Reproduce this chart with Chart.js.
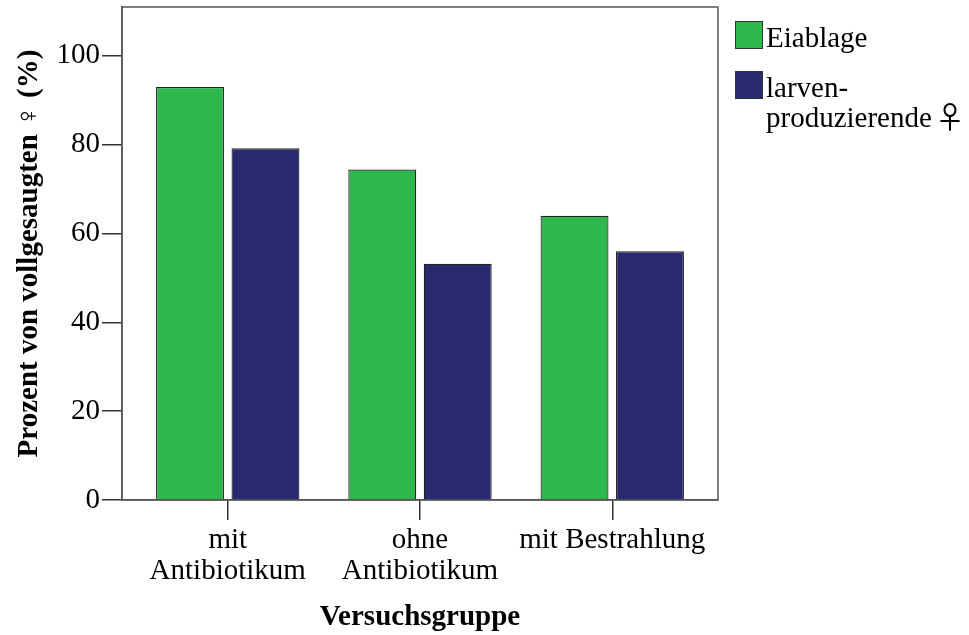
<!DOCTYPE html>
<html>
<head>
<meta charset="utf-8">
<script src="https://cdn.jsdelivr.net/npm/chart.js@4.4.1/dist/chart.umd.min.js"></script>
<style>
    html, body { margin: 0; padding: 0; background: #fff; }
    #wrap { width: 969px; height: 635px; position: relative; }
</style>
</head>
<body>
<div id="wrap"><canvas id="chart"></canvas></div>
<script>
// Data
const groups = [['mit', 'Antibiotikum'], ['ohne', 'Antibiotikum'], 'mit Bestrahlung'];
const seriesNames = ['Eiablage', ['larven-', 'produzierende \u2640']];
const eiablage = [93.0, 74.4, 64.0];
const larvenProduzierende = [79.2, 53.2, 56.0];
const yTicks = [0, 20, 40, 60, 80, 100];

const FONT = '"Liberation Serif", "Times New Roman", serif';
const SYMBOL_FONT = '"Noto Sans CJK JP", "DejaVu Sans", sans-serif';
const colors = ['#2eb84b', '#29296f'];

const toPoints = vals => vals.map((v, i) => ({ x: i, y: v }));

// draws a legend line, the female sign a bit larger like in the original
function drawLegendLine(ctx, text, x, y) {
    const parts = text.split('\u2640');
    ctx.font = '29px ' + FONT;
    ctx.fillText(parts[0], x, y);
    if (parts.length > 1) {
        const w = ctx.measureText(parts[0]).width;
        ctx.font = '30px ' + SYMBOL_FONT;
        ctx.fillText('\u2640', x + w - 4, y + 1);
    }
}

// box round the plot area plus the legend on the right
const boxAndLegend = {
    id: 'boxAndLegend',
    afterDraw(chart) {
        const ctx = chart.ctx;
        const area = chart.chartArea;
        ctx.save();
        ctx.strokeStyle = '#555';
        ctx.lineWidth = 1.5;
        ctx.strokeRect(area.left, area.top, area.right - area.left, area.bottom - area.top);

        ctx.textBaseline = 'alphabetic';
        let y = 21;
        chart.data.datasets.forEach((ds, i) => {
            ctx.fillStyle = ds.backgroundColor;
            ctx.fillRect(735, y, 28, 28);
            ctx.strokeStyle = '#333';
            ctx.lineWidth = 1;
            ctx.strokeRect(735.5, y + 0.5, 27, 27);
            ctx.fillStyle = '#000';
            const lines = Array.isArray(seriesNames[i]) ? seriesNames[i] : [seriesNames[i]];
            lines.forEach((t, j) => {
                drawLegendLine(ctx, t, 766, y + 26 + j * 30);
            });
            y += 50;
        });
        ctx.restore();
    }
};

new Chart(document.getElementById('chart'), {
    type: 'bar',
    data: {
        datasets: [{
            label: 'Eiablage',
            data: toPoints(eiablage),
            backgroundColor: colors[0],
            borderColor: '#222',
            borderWidth: 1.2,
            categoryPercentage: 0.785,
            barPercentage: 0.9
        }, {
            label: 'larven-produzierende \u2640',
            data: toPoints(larvenProduzierende),
            backgroundColor: colors[1],
            borderColor: '#222',
            borderWidth: 1.2,
            categoryPercentage: 0.785,
            barPercentage: 0.9
        }]
    },
    options: {
        responsive: true,
        maintainAspectRatio: false,
        animation: false,
        layout: { padding: { top: 7, right: 251, left: 0, bottom: 0 } },
        plugins: {
            legend: { display: false },
            tooltip: { enabled: false }
        },
        scales: {
            x: {
                type: 'linear',
                offset: false,
                min: -0.55,
                max: 2.55,
                grid: { display: true, offset: false, drawOnChartArea: false, drawTicks: true, tickLength: 20, color: '#333', lineWidth: 1.5 },
                border: { display: true, color: '#555', width: 1.5 },
                afterBuildTicks: scale => { scale.ticks = groups.map((_, i) => ({ value: i })); },
                ticks: {
                    autoSkip: false,
                    maxRotation: 0,
                    padding: 4,
                    color: '#000',
                    font: { family: FONT, size: 29, lineHeight: 1.1 },
                    callback: v => groups[v]
                },
                title: {
                    display: true,
                    text: 'Versuchsgruppe',
                    color: '#000',
                    font: { family: FONT, size: 29, weight: 'bold' },
                    padding: { top: 6, bottom: 0 }
                },
                afterFit: scale => {
                    scale.height = 135;
                    scale.paddingLeft = 0;
                    scale.paddingRight = 0;
                }
            },
            y: {
                min: 0,
                max: 111,
                grid: { display: true, drawOnChartArea: false, drawTicks: true, tickLength: 20, color: '#333', lineWidth: 1.5 },
                border: { display: true, color: '#555', width: 1.5 },
                afterBuildTicks: scale => { scale.ticks = yTicks.map(v => ({ value: v })); },
                ticks: {
                    padding: 2,
                    color: '#000',
                    font: { family: FONT, size: 29 }
                },
                title: {
                    display: true,
                    text: 'Prozent von vollgesaugten \u2640 (%)',
                    color: '#000',
                    font: { family: FONT, size: 29, weight: 'bold' },
                    padding: { top: 12, bottom: 4 }
                },
                afterFit: scale => {
                    scale.width = 122;
                    scale.paddingTop = 0;
                    scale.paddingBottom = 0;
                }
            }
        }
    },
    plugins: [boxAndLegend]
});
</script>
</body>
</html>
